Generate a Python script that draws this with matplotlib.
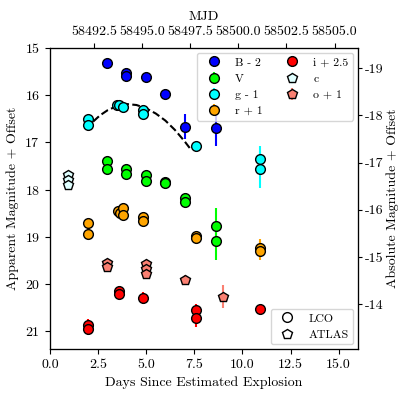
import numpy as np
import matplotlib
matplotlib.use("Agg")
import matplotlib.pyplot as plt
from matplotlib.lines import Line2D

plt.rcParams['font.family'] = 'serif'
plt.rcParams['font.serif'] = ['cmr10', 'DejaVu Serif']
plt.rcParams['mathtext.fontset'] = 'cm'
plt.rcParams['axes.unicode_minus'] = False
plt.rcParams['axes.formatter.use_mathtext'] = True

t_expl = 58490.21
dist_mod = 34.43

# days since explosion, magnitude (with offset), error
B_t = [2.97, 3.96, 3.96, 4.98, 5.99, 7.0, 8.61]
B_m = [15.32, 15.53, 15.60, 15.62, 15.98, 16.67, 16.70]
B_e = [0.03, 0.10, 0.05, 0.04, 0.10, 0.26, 0.37]

V_t = [2.95, 2.95, 3.96, 3.96, 4.98, 4.98, 5.99, 5.99, 7.0, 7.0, 8.61, 8.61]
V_m = [17.40, 17.56, 17.57, 17.67, 17.70, 17.81, 17.84, 17.86, 18.18, 18.27, 18.78, 19.10]
V_e = [0.03, 0.03, 0.03, 0.03, 0.03, 0.03, 0.03, 0.03, 0.05, 0.05, 0.38, 0.40]

g_t = [1.96, 1.96, 3.50, 3.60, 3.82, 4.83, 4.83, 7.60, 10.89, 10.89]
g_m = [16.50, 16.63, 16.20, 16.21, 16.25, 16.32, 16.40, 17.08, 17.35, 17.57]
g_e = [0.03, 0.03, 0.03, 0.03, 0.03, 0.03, 0.03, 0.04, 0.27, 0.39]

r_t = [1.96, 1.96, 3.56, 3.62, 3.82, 3.82, 4.83, 4.83, 7.60, 7.60, 10.89, 10.89]
r_m = [18.70, 18.94, 18.46, 18.49, 18.40, 18.54, 18.58, 18.67, 18.98, 19.02, 19.24, 19.30]
r_e = [0.03, 0.03, 0.04, 0.04, 0.12, 0.04, 0.04, 0.04, 0.04, 0.04, 0.2, 0.2]

i_t = [1.96, 1.96, 3.59, 3.59, 4.86, 7.60, 7.60, 10.89]
i_m = [20.87, 20.96, 20.15, 20.22, 20.30, 20.55, 20.73, 20.54]
i_e = [0.12, 0.12, 0.08, 0.08, 0.12, 0.12, 0.18, 0.08]

c_t = [0.95, 0.95, 0.95]
c_m = [17.70, 17.80, 17.90]
c_e = [0.03, 0.03, 0.03]

o_t = [2.98, 2.98, 5.0, 5.0, 5.0, 7.03, 8.99]
o_m = [19.55, 19.65, 19.58, 19.69, 19.79, 19.92, 20.27]
o_e = [0.04, 0.04, 0.04, 0.04, 0.04, 0.10, 0.24]

# g-band fit curve
fit_t = [2.25, 2.6, 3.0, 3.5, 4.0, 4.5, 5.0, 5.5, 6.0, 6.5, 7.0, 7.3]
fit_m = [16.56, 16.43, 16.32, 16.23, 16.19, 16.21, 16.28, 16.39, 16.54, 16.74, 16.98, 17.14]

bands = [
    (B_t, B_m, B_e, 'blue', 'o', 'B - 2'),
    (V_t, V_m, V_e, 'lime', 'o', 'V'),
    (g_t, g_m, g_e, 'cyan', 'o', 'g - 1'),
    (r_t, r_m, r_e, 'orange', 'o', 'r + 1'),
    (i_t, i_m, i_e, 'red', 'o', 'i + 2.5'),
    (c_t, c_m, c_e, 'lightcyan', 'p', 'c'),
    (o_t, o_m, o_e, 'salmon', 'p', 'o + 1'),
]

fig = plt.figure(figsize=(3.99, 3.99), dpi=100)
ax = fig.add_axes([0.125, 0.125, 0.772, 0.755])

handles = []
for t, m, e, col, mk, lab in bands:
    h = ax.errorbar(t, m, yerr=e, fmt=mk, color=col, ecolor=col, mec='black',
                    mew=1.0, ms=7, elinewidth=1.5, capsize=0, label=lab, zorder=3)
    handles.append(h)

ax.plot(fit_t, fit_m, 'k--', lw=1.5, zorder=2)

ax.set_xlim(0, 16)
ax.set_ylim(21.38, 15.0)
ax.set_xticks([0, 2.5, 5, 7.5, 10, 12.5, 15])
ax.set_xticklabels(['0.0', '2.5', '5.0', '7.5', '10.0', '12.5', '15.0'])
ax.set_yticks([15, 16, 17, 18, 19, 20, 21])
ax.set_xlabel('Days Since Estimated Explosion', fontsize=10)
ax.set_ylabel('Apparent Magnitude + Offset', fontsize=10)
ax.tick_params(labelsize=10)

leg1 = ax.legend(handles=handles, loc='upper right', ncol=2, fontsize=8.5,
                 handletextpad=0.8, columnspacing=1.5, borderaxespad=0.4)
ax.add_artist(leg1)
shape_h = [Line2D([], [], ls='none', marker='o', mfc='white', mec='black', ms=7, label='LCO'),
           Line2D([], [], ls='none', marker='p', mfc='white', mec='black', ms=7, label='ATLAS')]
ax.legend(handles=shape_h, loc='lower right', fontsize=8.5, borderaxespad=0.4)

axr = ax.twinx()
axr.set_ylim(21.38 - dist_mod, 15.0 - dist_mod)
axr.set_yticks([-19, -18, -17, -16, -15, -14])
axr.set_yticklabels(['-19', '-18', '-17', '-16', '-15', '-14'])
axr.set_ylabel('Absolute Magnitude + Offset', fontsize=10, labelpad=2)
axr.tick_params(labelsize=10, pad=2, length=3)

axt = ax.twiny()
axt.set_xlim(0 + t_expl, 16 + t_expl)
mjd_ticks = [58492.5, 58495.0, 58497.5, 58500.0, 58502.5, 58505.0]
axt.set_xticks(mjd_ticks)
axt.set_xticklabels(['%.1f' % v for v in mjd_ticks])
axt.set_xlabel('MJD', fontsize=10)
axt.tick_params(labelsize=10)

fig.savefig('out.png', dpi=100)
